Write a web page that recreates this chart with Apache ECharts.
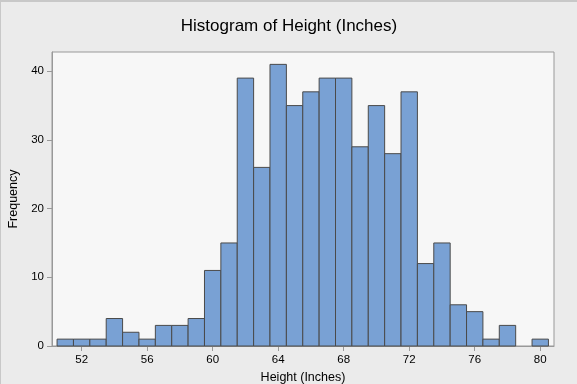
<!DOCTYPE html>
<html><head><meta charset="utf-8">
<script src="https://cdn.jsdelivr.net/npm/echarts@6/dist/echarts.min.js"></script>
<style>html,body{margin:0;padding:0;background:#ebebeb;}#c{width:577px;height:384px;box-sizing:border-box;border-top:2px solid #c8c8c8;border-left:1px solid #c8c8c8;}</style>
</head><body><div id="c"></div>
<script>
const binCenters = [51,52,53,54,55,56,57,58,59,60,61,62,63,64,65,66,67,68,69,70,71,72,73,74,75,76,77,78,79,80];
const counts     = [1,1,1,4,2,1,3,3,4,11,15,39,26,41,35,37,39,39,29,35,28,37,12,15,6,5,1,3,0,1];
const binWidth = 1;
const xTicks = [52,56,60,64,68,72,76,80];
const yTicks = [0,10,20,30,40];

const chart = echarts.init(document.getElementById('c'), null, {renderer:'canvas'});
const data = binCenters.map((c,i)=>[c-binWidth/2, c+binWidth/2, counts[i]]).filter(d=>d[2]>0);
const font = 'Liberation Sans, Arial';
chart.setOption({
  backgroundColor:'#ebebeb',
  animation:false,
  title:{text:'Histogram of Height (Inches)',left:'center',top:11,
    textStyle:{fontFamily:font,fontSize:17,fontWeight:'normal',color:'#000'}},
  grid:{left:51,right:23,top:50,bottom:38,outerBoundsMode:'none',containLabel:false,
    show:true,backgroundColor:'#f7f7f7',borderColor:'#999',borderWidth:1},
  xAxis:{type:'value',min:50.19,max:80.84,interval:4,
    name:'Height (Inches)',nameLocation:'middle',nameGap:25,
    nameTextStyle:{fontFamily:font,fontSize:12.5,color:'#000'},
    axisLine:{lineStyle:{color:'#999'}},
    axisTick:{show:true,length:5,lineStyle:{color:'#999'},customValues:xTicks},
    axisLabel:{fontFamily:font,fontSize:11.5,color:'#000',margin:8,customValues:xTicks},
    splitLine:{show:false}},
  yAxis:{type:'value',min:0,max:42.8,interval:10,
    name:'Frequency',nameLocation:'middle',nameGap:27,
    nameTextStyle:{fontFamily:font,fontSize:12.5,color:'#000'},
    axisLine:{show:true,lineStyle:{color:'#999'}},
    axisTick:{show:true,length:5,lineStyle:{color:'#999'},customValues:yTicks},
    axisLabel:{fontFamily:font,fontSize:11.5,color:'#000',margin:8,customValues:yTicks},
    splitLine:{show:false}},
  series:[{type:'custom',data:data,
    renderItem:function(params,api){
      const p0=api.coord([api.value(0),0]);
      const p1=api.coord([api.value(1),api.value(2)]);
      return {type:'rect',shape:{x:p0[0],y:p1[1],width:p1[0]-p0[0],height:p0[1]-p1[1]},
        style:{fill:'#79a1d4',stroke:'#4a4a4a',lineWidth:1}};
    },
    encode:{x:[0,1],y:2}}]
});
</script></body></html>
